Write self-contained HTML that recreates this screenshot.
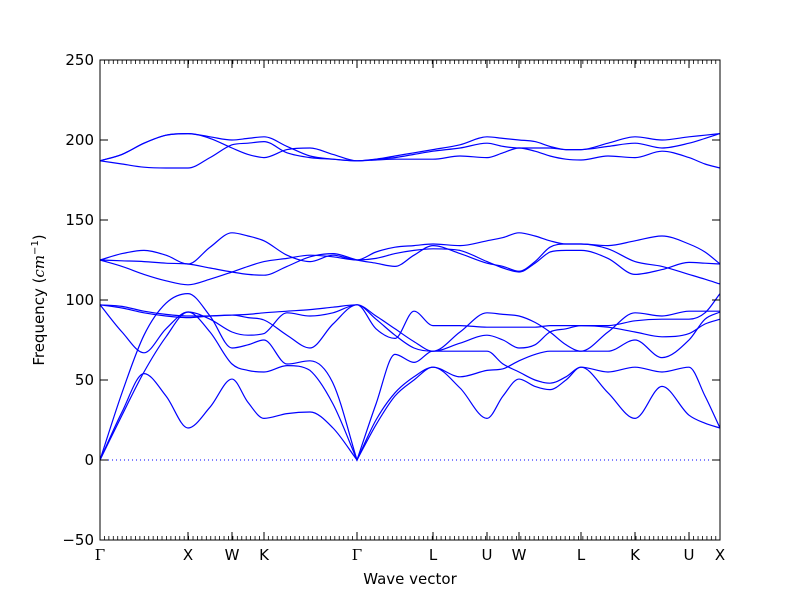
<!DOCTYPE html>
<html><head><meta charset="utf-8"><style>
html,body{margin:0;padding:0;background:#fff;}
svg{display:block;font-family:"DejaVu Sans","Liberation Sans",sans-serif;}
</style></head><body>
<svg id="chart" width="800" height="600" viewBox="0 0 800 600" xmlns="http://www.w3.org/2000/svg">
<rect x="0" y="0" width="800" height="600" fill="#fff"/>
<g id="bands"></g>
<g id="axes"></g>
<rect x="100" y="60" width="620" height="480" fill="none" stroke="#000" stroke-width="1"/>
<text x="410" y="584" text-anchor="middle" font-size="15">Wave vector</text>
<text transform="translate(44,300) rotate(-90)" text-anchor="middle" font-size="15">Frequency (<tspan font-style="italic" font-family="DejaVu Serif,serif">cm</tspan><tspan font-size="10" dy="-6">−1</tspan><tspan dy="6">)</tspan></text>
</svg>
<script>
const kdist = [0,22,44,66,88,110,132,148,164,187,210,233,257,276,295,314,333,360,387,403,419,435,450,466,481,508,535,562,589,605,620];
const symLabels = ["Γ","X","W","K","Γ","L","U","W","L","K","U","X"];
const symPos = [0,88,132,164,257,333,387,419,481,535,589,620];
const yTicks = [-50,0,50,100,150,200,250];
const band1 = [0,30,54,40,20,33,50.6,36,26,29,30,20,0,22,40,50,58,45,26,40,50.6,46,44,50,58,42,26,46,28,23,20];
const band2 = [0,42,78,98,104,90,70,72,75,60,62,48,0,25,42,52,58,52,56,57,62,66,68,68,68,68,75,64,75,88,92.5];
const band3 = [0,28,55,77,92.5,80,60,56,55,59,56,35,0,35,66,61,68,68,68,60,55,50,48,52,58,55,58,55,58,40,20];
const band4 = [97,95,92,90,89,90,90.6,89,87.5,78,70,85,97,82,76,93,84,84,83,83,83,83,84,84,84,83,80,77,79,85,88];
const band5 = [97,80,67,82,92.5,88,80,78,79,92,90,92,97,90,82,74,68,80,92,91,90,86,80,72,68,80,92,90,93,93,93];
const band6 = [97,96,93,91,90,90,90.6,91,92,93,94,95.5,97,88,78,70,68,73,78,75,70,72,80,82,84,84,87,88,88,92,104];
const band7 = [125,129,131,128,122.5,133,142,140,137,128,124,128,125,130,133,134,135,134,137,139,142,140,137,135,135,134,137,140,135,130,122.5];
const band8 = [125,121,116,112,109.5,113,117.5,121,124,126,128,127,125,126,129,131,132,131,124,120,117.5,123,130,131,131,126,116,119,123.5,123,122.5];
const band9 = [125,124.5,124,123,122.5,120,117.5,116,115.5,121,127,129,125,123,121,128,134,129,123,121,118,124,133,135,135,132,124,121,116,113,110];
const band10 = [187,191,198,203,204,202,200,201,202,196,190,188,187,188,190,192,194,197,202,201,200,199,196,194,194,198,202,200,202,203,204];
const band11 = [187,191,198,203,204,201,195,191,189,194,195,191,187,188,189,191,193,195,198,196,195,195,195,194,194,196,198,195,198,201,204];
const band12 = [187,185,183,182.5,182.5,189,197,198,199,192,189,188,187,187.5,188,188,188,190,189,192,195,193,190,188,187.5,190,189,193,189,185,182.5];
const bands = [band1,band2,band3,band4,band5,band6,band7,band8,band9,band10,band11,band12];

const X0=100,X1=720,Y0=540,Y1=60,KMAX=620,VMIN=-50,VMAX=250;
function xs(k){return X0+(k/KMAX)*(X1-X0);}
function ys(v){return Y0-(v-VMIN)/(VMAX-VMIN)*(Y0-Y1);}
const NS="http://www.w3.org/2000/svg";
function mk(tag,attrs,parent){const e=document.createElementNS(NS,tag);for(const a in attrs)e.setAttribute(a,attrs[a]);parent.appendChild(e);return e;}

function pathFor(vals){
  const px=kdist.map(xs), py=vals.map(ys), n=px.length;
  const d=[],mi=new Array(n),mo=new Array(n);
  for(let i=0;i<n-1;i++)d.push((py[i+1]-py[i])/(px[i+1]-px[i]));
  mo[0]=d[0];mi[0]=d[0];mi[n-1]=d[n-2];mo[n-1]=d[n-2];
  for(let i=1;i<n-1;i++){
    if(vals[i]===0){mi[i]=d[i-1];mo[i]=d[i];continue;}
    const m=(d[i-1]*d[i]<=0)?0:(d[i-1]+d[i])/2;mi[i]=m;mo[i]=m;}
  let s="M"+px[0]+","+py[0];
  for(let i=0;i<n-1;i++){const h=(px[i+1]-px[i])/3;
    let a=mo[i],b=mi[i+1];
    if(d[i]===0){a=0;b=0;}else{const ra=a/d[i],rb=b/d[i],q=ra*ra+rb*rb;if(q>9){const t=3/Math.sqrt(q);a=t*ra*d[i];b=t*rb*d[i];}}
    s+=" C"+(px[i]+h)+","+(py[i]+a*h)+" "+(px[i+1]-h)+","+(py[i+1]-b*h)+" "+px[i+1]+","+py[i+1];}
  return s;
}
const bandsG=document.getElementById('bands');
bands.forEach((b,i)=>{
  const p=mk('path',{d:pathFor(b),fill:'none',stroke:'#0000ff','stroke-width':1.2},bandsG);
  
  
});
const zl=mk('line',{x1:X0,x2:X1,y1:ys(0),y2:ys(0),stroke:'#0000ff','stroke-width':1,'stroke-dasharray':'1,3'},bandsG);



const ax=document.getElementById('axes');
for(let x=X0;x<=X1;x+=4.43){
  mk('line',{x1:x,x2:x,y1:Y0,y2:Y0-4,stroke:'#000','stroke-width':0.8},ax);
  mk('line',{x1:x,x2:x,y1:Y1,y2:Y1+4,stroke:'#000','stroke-width':0.8},ax);
}
symPos.forEach((k,i)=>{
  const x=xs(k);
  mk('line',{x1:x,x2:x,y1:Y0,y2:Y0-8,stroke:'#000'},ax);
  mk('line',{x1:x,x2:x,y1:Y1,y2:Y1+8,stroke:'#000'},ax);
  const t=mk('text',{x:x,y:Y0+20,'text-anchor':'middle','font-size':15},ax);
  if(symLabels[i]==="Γ")t.setAttribute('font-family','DejaVu Serif,serif');
  t.textContent=symLabels[i];
  
  
});
yTicks.forEach(v=>{
  const y=ys(v);
  mk('line',{x1:X0,x2:X0+8,y1:y,y2:y,stroke:'#000'},ax);
  mk('line',{x1:X1,x2:X1-8,y1:y,y2:y,stroke:'#000'},ax);
  const t=mk('text',{x:X0-6,y:y+5,'text-anchor':'end','font-size':15},ax);
  t.textContent=v<0?"−"+Math.abs(v):String(v);
  
  
});
</script>
</body></html>
